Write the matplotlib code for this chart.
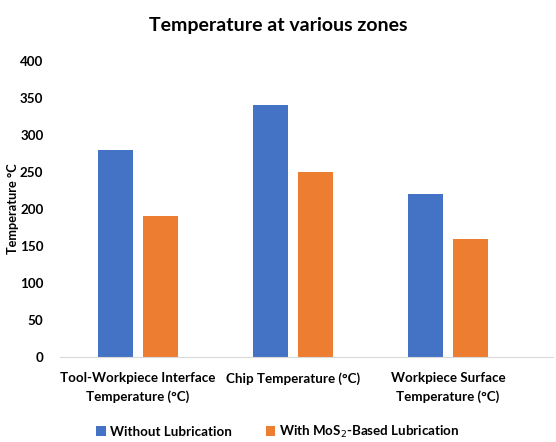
import matplotlib.pyplot as plt
import numpy as np

categories = ['Tool-Workpiece Interface\nTemperature (°C)', 'Chip Temperature (°C)',
              'Workpiece Surface\nTemperature (°C)']
without_lub = [280, 340, 220]
with_mos2 = [190, 250, 160]
yticks = [0, 50, 100, 150, 200, 250, 300, 350, 400]

plt.rcParams['font.family'] = ['Lato', 'DejaVu Sans']

fig = plt.figure(figsize=(5.56, 4.42), dpi=100)
ax = fig.add_axes([0.108, 0.192, 0.887, 0.670])

x = np.arange(len(categories))
w = 0.225
off = 0.144
ax.bar(x - off, without_lub, w, color='#4472C4', label='Without Lubrication')
ax.bar(x + off, with_mos2, w, color='#ED7D31', label='With MoS$_2$-Based Lubrication')

ax.set_xlim(-0.503, 2.68)
ax.set_ylim(0, 400)
ax.set_yticks(yticks)
ax.set_xticks(x)
ax.set_xticklabels(categories, fontsize=9.6, fontweight='bold', linespacing=1.55)
ax.tick_params(axis='y', labelsize=9.6, length=0, pad=12)
ax.tick_params(axis='x', length=0, pad=11)
for lbl in ax.get_yticklabels():
    lbl.set_fontweight('bold')

for s in ['top', 'right', 'left']:
    ax.spines[s].set_visible(False)
ax.spines['bottom'].set_color('#d9d9d9')

ax.set_ylabel('Temperature °C', fontsize=9.2, fontweight='bold')
ax.yaxis.set_label_coords(-0.083, 0.5)
fig.suptitle('Temperature at various zones', fontsize=14, fontweight='bold', y=0.962)

fig.legend(loc='lower center', bbox_to_anchor=(0.5, -0.022), ncol=2, frameon=False,
           handlelength=0.7, handleheight=0.7, columnspacing=2.6,
           handletextpad=0.3, prop={'weight': 'bold', 'size': 9.6})

fig.savefig('out.png', dpi=100)
